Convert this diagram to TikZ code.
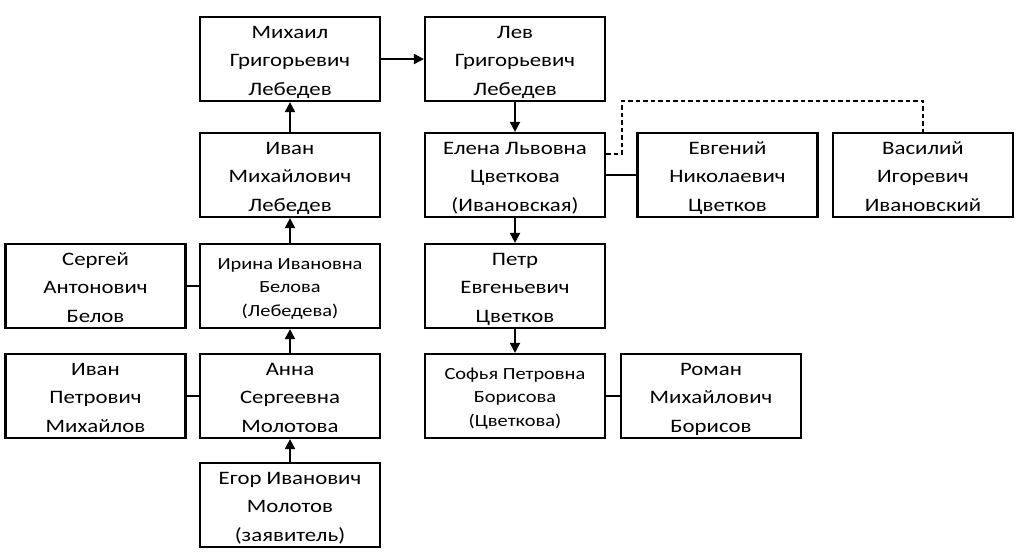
\documentclass[tikz,border=0pt]{standalone}
\usepackage{fontspec}
\setmainfont{Carlito}[FakeStretch=1.2]
\usetikzlibrary{arrows.meta}
\newcommand{\threelines}[3]{\rule{0pt}{21pt}#1\\#2\\#3\rule[-6pt]{0pt}{6pt}}
\newcommand{\threesmall}[3]{\rule{0pt}{19pt}#1\\#2\\#3\rule[-6pt]{0pt}{6pt}}
\begin{document}
\begin{tikzpicture}[x=1pt,y=-1pt,
  person/.style={draw=black, line width=2.2pt, minimum width=180pt, minimum height=84pt, inner sep=0pt, align=center, font=\fontsize{19}{28.5}\selectfont},
  personsmall/.style={person, font=\fontsize{17}{23.5}\selectfont},
  link/.style={line width=2pt},
  arr/.style={line width=2pt, -{Triangle[length=10pt,width=10pt]}},
  dashlink/.style={line width=1.3pt, dash pattern=on 4.5pt off 3pt}]
\useasboundingbox (0,0) rectangle (1024,558);
\node[person] (mikh) at (290,59) {\threelines{Михаил}{Григорьевич}{Лебедев}};
\node[person] (lev) at (515,59) {\threelines{Лев}{Григорьевич}{Лебедев}};
\node[person] (ivanm) at (290,175) {\threelines{Иван}{Михайлович}{Лебедев}};
\node[person] (elena) at (515,175) {\threelines{Елена Львовна}{Цветкова}{(Ивановская)}};
\node[person] (evg) at (727.5,175) {\threelines{Евгений}{Николаевич}{Цветков}};
\node[person] (vas) at (923,175) {\threelines{Василий}{Игоревич}{Ивановский}};
\node[person] (serg) at (95.5,286) {\threelines{Сергей}{Антонович}{Белов}};
\node[personsmall] (irina) at (290,286) {\threesmall{Ирина Ивановна}{Белова}{(Лебедева)}};
\node[person] (petr) at (515,286) {\threelines{Петр}{Евгеньевич}{Цветков}};
\node[person] (ivanp) at (95.5,396) {\threelines{Иван}{Петрович}{Михайлов}};
\node[person] (anna) at (290,396) {\threelines{Анна}{Сергеевна}{Молотова}};
\node[personsmall] (sofya) at (515,396) {\threesmall{Софья Петровна}{Борисова}{(Цветкова)}};
\node[person] (roman) at (711,396) {\threelines{Роман}{Михайлович}{Борисов}};
\node[person] (egor) at (290,505) {\threelines{Егор Иванович}{Молотов}{(заявитель)}};

\draw[arr] (mikh) -- (lev);
\draw[arr] (ivanm) -- (mikh);
\draw[arr] (irina) -- (ivanm);
\draw[arr] (anna) -- (irina);
\draw[arr] (egor) -- (anna);
\draw[arr] (lev) -- (elena);
\draw[arr] (elena) -- (petr);
\draw[arr] (petr) -- (sofya);
\draw[link] (serg) -- (irina);
\draw[link] (ivanp) -- (anna);
\draw[link] (sofya) -- (roman);
\draw[link] (elena) -- (evg);
\coordinate (dstart) at ([yshift=21pt]elena.east);
\coordinate (dtop) at (622,101);
\draw[dashlink] (dstart) -| (dtop) -| (vas.north);
\end{tikzpicture}
\end{document}
